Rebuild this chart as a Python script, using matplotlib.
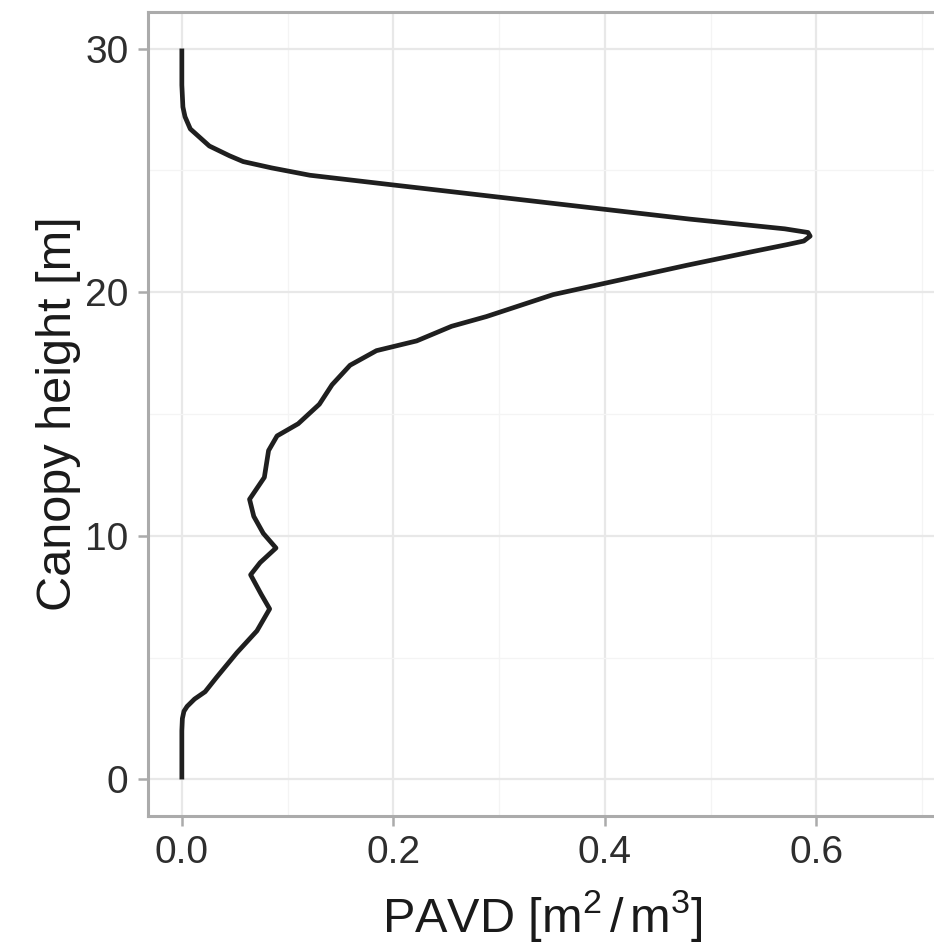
import matplotlib
matplotlib.use('Agg')
import matplotlib.pyplot as plt
from matplotlib.ticker import MultipleLocator

plt.rcParams['font.family'] = ['Liberation Sans', 'DejaVu Sans']
plt.rcParams['mathtext.fontset'] = 'custom'
plt.rcParams['mathtext.rm'] = 'Liberation Sans'
plt.rcParams['mathtext.it'] = 'Liberation Sans'

# vertical PAVD profile: canopy height [m] and plant area volume density
height = [0.0, 1.0, 2.0, 2.5, 2.8, 3.0, 3.3, 3.6, 4.2, 5.2, 6.1, 7.0, 7.6,
          8.4, 8.9, 9.5, 10.1, 10.8, 11.5, 12.4, 13.5, 14.1, 14.6, 15.4,
          16.2, 17.0, 17.6, 18.0, 18.6, 19.0, 19.9, 20.5, 21.1, 21.67, 21.95,
          22.1, 22.3, 22.45, 22.6, 23.0, 23.5, 24.0, 24.4, 24.8, 25.1, 25.36,
          25.6, 26.0, 26.7, 27.2, 27.6, 28.5, 30.0]
pavd = [0.0, 0.0, 0.0, 0.0005, 0.002, 0.005, 0.012, 0.022, 0.033, 0.052,
        0.071, 0.083, 0.075, 0.065, 0.074, 0.089, 0.077, 0.068, 0.064, 0.078,
        0.082, 0.090, 0.110, 0.130, 0.142, 0.159, 0.184, 0.222, 0.255, 0.288,
        0.351, 0.414, 0.477, 0.540, 0.572, 0.588, 0.594, 0.592, 0.570, 0.480,
        0.380, 0.280, 0.200, 0.121, 0.085, 0.058, 0.045, 0.026, 0.008, 0.003,
        0.001, 0.0, 0.0]

x_ticks = [0.0, 0.2, 0.4, 0.6]
y_ticks = [0, 10, 20, 30]

fig = plt.figure(figsize=(9.34, 9.52), dpi=100)
ax = fig.add_axes([148 / 934, (952 - 816) / 952, (936 - 148) / 934, 804 / 952])

ax.plot(pavd, height, color='#1f1f1f', linewidth=3.4, solid_joinstyle='round',
        solid_capstyle='butt', zorder=3)

ax.set_xlim(-0.032, 0.713)
ax.set_ylim(-1.5, 31.5)
ax.set_xticks(x_ticks)
ax.set_xticklabels([f'{v:.1f}' for v in x_ticks])
ax.set_yticks(y_ticks)
ax.xaxis.set_minor_locator(MultipleLocator(0.1))
ax.yaxis.set_minor_locator(MultipleLocator(5))

ax.grid(which='major', color='#e8e8e8', linewidth=1.6, zorder=0)
ax.grid(which='minor', color='#f4f4f4', linewidth=0.9, zorder=0)
ax.set_axisbelow(True)

for sp in ax.spines.values():
    sp.set_color('#ababab')
    sp.set_linewidth(2.2)

ax.tick_params(which='major', length=7, width=1.8, color='#ababab',
               labelsize=28, labelcolor='#2e2e2e', pad=7)
ax.tick_params(which='minor', length=0)

ax.set_xlabel('PAVD [m$^2\\,/\\,$m$^3$]', fontsize=35, color='#1a1a1a', labelpad=12)
ax.set_ylabel('Canopy height [m]', fontsize=35, color='#1a1a1a', labelpad=3)

fig.savefig('out.png', dpi=100)
